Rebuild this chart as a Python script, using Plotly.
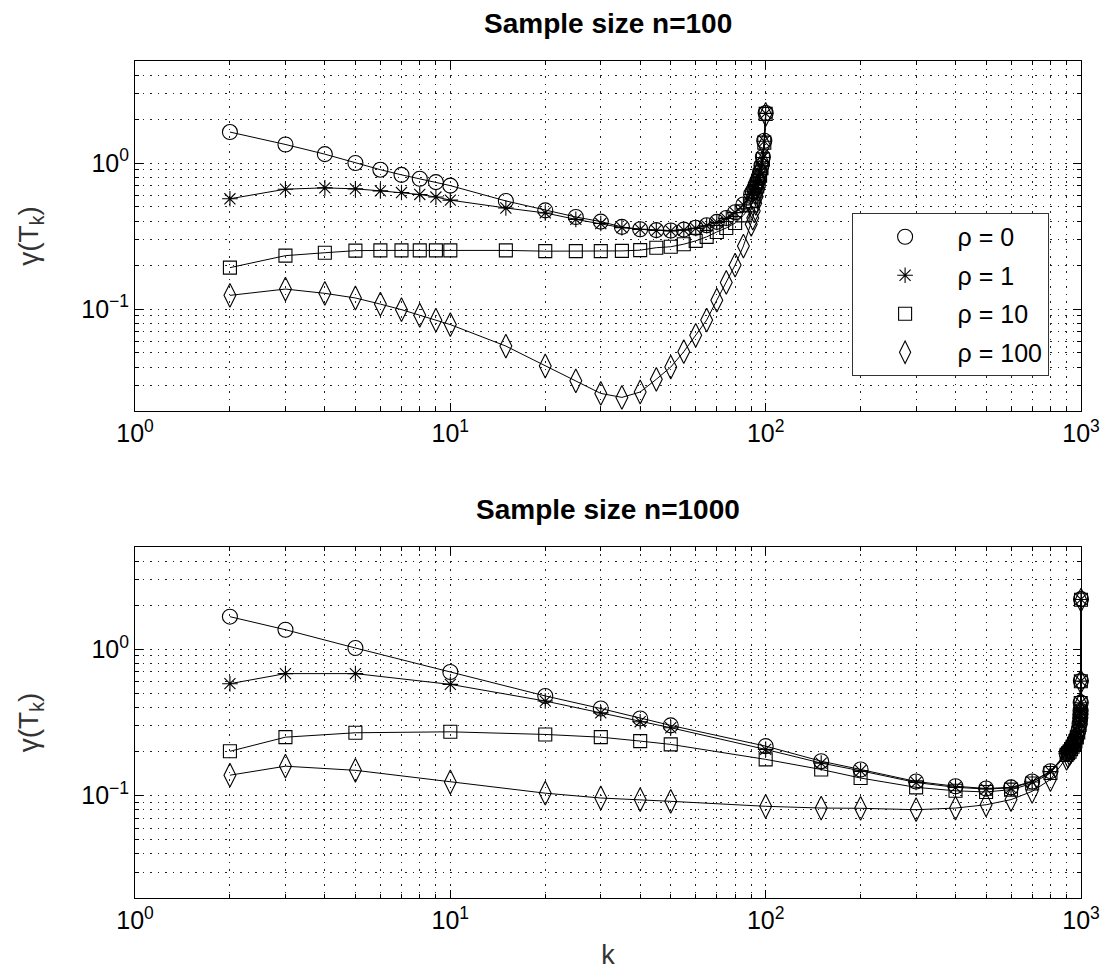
import plotly.graph_objects as go
import math

# ---------------- data ----------------
k_n100 = [2, 3, 4, 5, 6, 7, 8, 9, 10, 15, 20, 25, 30, 35, 40, 45, 50, 55, 60, 65,
          70, 75, 80, 85, 90, 91, 92, 93, 94, 95, 96, 97, 98, 99, 100]
n100_rho0 = [1.63, 1.34, 1.15, 1.0, 0.90, 0.83, 0.78, 0.74, 0.70, 0.55, 0.474, 0.427,
             0.397, 0.365, 0.352, 0.347, 0.345, 0.35, 0.36, 0.375, 0.395, 0.42, 0.46,
             0.52, 0.615, 0.64, 0.67, 0.71, 0.75, 0.80, 0.87, 0.96, 1.1, 1.42, 2.2]
n100_rho1 = [0.569, 0.662, 0.676, 0.665, 0.645, 0.628, 0.609, 0.585, 0.557, 0.492,
             0.455, 0.411, 0.385, 0.361, 0.351, 0.345, 0.343, 0.347, 0.357, 0.372,
             0.392, 0.418, 0.457, 0.517, 0.61, 0.635, 0.665, 0.705, 0.745, 0.795,
             0.865, 0.955, 1.09, 1.41, 2.19]
n100_rho10 = [0.192, 0.232, 0.243, 0.251, 0.252, 0.252, 0.252, 0.252, 0.252, 0.252,
              0.249, 0.249, 0.249, 0.250, 0.253, 0.263, 0.267, 0.278, 0.293, 0.312,
              0.337, 0.359, 0.388, 0.438, 0.513, 0.55, 0.59, 0.64, 0.69, 0.75, 0.82,
              0.92, 1.06, 1.38, 2.17]
n100_rho100 = [0.124, 0.137, 0.128, 0.119, 0.108, 0.099, 0.0906, 0.0838, 0.0782,
               0.0557, 0.0407, 0.0322, 0.0264, 0.0248, 0.027, 0.033, 0.040, 0.051,
               0.066, 0.084, 0.115, 0.152, 0.20, 0.27, 0.38, 0.42, 0.47, 0.53, 0.59,
               0.66, 0.75, 0.86, 1.01, 1.33, 2.15]

k_n1000 = [2, 3, 5, 10, 20, 30, 40, 50, 100, 150, 200, 300, 400, 500, 600, 700, 800,
           900, 910, 920, 930, 940, 950, 960, 970, 980, 990, 995, 996, 997, 998, 999, 1000]
n1000_rho0 = [1.67, 1.36, 1.02, 0.70, 0.48, 0.394, 0.337, 0.302, 0.218, 0.172, 0.151,
              0.125, 0.116, 0.112, 0.114, 0.125, 0.147, 0.195, 0.20, 0.205, 0.212,
              0.22, 0.23, 0.24, 0.255, 0.275, 0.31, 0.34, 0.36, 0.38, 0.432, 0.607, 2.2]
n1000_rho1 = [0.582, 0.682, 0.682, 0.576, 0.443, 0.368, 0.32, 0.291, 0.207, 0.167,
              0.148, 0.123, 0.114, 0.111, 0.113, 0.124, 0.146, 0.194, 0.199, 0.204,
              0.211, 0.219, 0.229, 0.239, 0.254, 0.274, 0.309, 0.339, 0.359, 0.379,
              0.431, 0.606, 2.19]
n1000_rho10 = [0.201, 0.251, 0.269, 0.273, 0.262, 0.251, 0.236, 0.224, 0.177, 0.151,
               0.132, 0.114, 0.108, 0.106, 0.110, 0.121, 0.143, 0.19, 0.195, 0.20,
               0.208, 0.216, 0.226, 0.236, 0.25, 0.27, 0.305, 0.335, 0.355, 0.375,
               0.43, 0.605, 2.18]
n1000_rho100 = [0.138, 0.159, 0.149, 0.124, 0.104, 0.0964, 0.094, 0.0915, 0.0846,
                0.0823, 0.082, 0.0802, 0.0823, 0.0867, 0.094, 0.107, 0.129, 0.18,
                0.186, 0.193, 0.2, 0.21, 0.22, 0.23, 0.245, 0.265, 0.3, 0.33, 0.35,
                0.37, 0.425, 0.6, 2.17]

legend_labels = ["\u03c1 = 0", "\u03c1 = 1", "\u03c1 = 10", "\u03c1 = 100"]
titles = ["Sample size n=100", "Sample size n=1000"]
x_ticks = [1, 10, 100, 1000]
x_ticktext = ["10<sup>0</sup>", "10<sup>1</sup>", "10<sup>2</sup>", "10<sup>3</sup>"]
x_minor = [m * d for d in (1, 10, 100) for m in range(2, 10)]
y_ticks = [0.1, 1]
y_ticktext = ["10<sup>\u22121</sup>", "10<sup>0</sup>"]
y_minor = ([m * 0.01 for m in range(2, 10)] + [m * 0.1 for m in range(2, 10)]
           + [m * 1.0 for m in range(2, 6)])

# ---------------- style ----------------
FONT = "Liberation Sans, Arial, Helvetica, sans-serif"
symbols = ["circle-open", "asterisk-open", "square-open", "diamond-tall-open"]
sizes = [15, 13, 13, 17]

fig = go.Figure()

panels = [
    ("x", "y", k_n100, [n100_rho0, n100_rho1, n100_rho10, n100_rho100]),
    ("x2", "y2", k_n1000, [n1000_rho0, n1000_rho1, n1000_rho10, n1000_rho100]),
]
for xa, ya, kk, series in panels:
    for i, vals in enumerate(series):
        fig.add_trace(go.Scatter(
            x=kk, y=vals, xaxis=xa, yaxis=ya, mode="lines+markers",
            line=dict(color="black", width=1),
            marker=dict(symbol=symbols[i], size=sizes[i], color="black",
                        line=dict(color="black", width=1.1)),
            showlegend=False, cliponaxis=False,
        ))

# legend-only entries (markers only)
for i, lab in enumerate(legend_labels):
    fig.add_trace(go.Scatter(
        x=[None], y=[None], xaxis="x", yaxis="y", mode="markers", name=lab,
        marker=dict(symbol=symbols[i], size=sizes[i], color="black",
                    line=dict(color="black", width=1.1)),
        legendgroup=str(i), showlegend=True,
    ))

grid_dash = "1.5px,6px"
GRIDC = "#222"
TICKSIZE = 25

def xaxis_cfg(anchor):
    return dict(
        type="log", range=[0, 3], anchor=anchor, domain=[0, 1],
        tickmode="array", tickvals=x_ticks, ticktext=x_ticktext,
        ticks="inside", ticklen=8, tickcolor="black", mirror="allticks",
        showline=True, linecolor="black", linewidth=1,
        showgrid=True, gridcolor=GRIDC, griddash=grid_dash, gridwidth=1,
        minor=dict(tickmode="array", tickvals=x_minor, ticks="inside", ticklen=4,
                   tickcolor="black", showgrid=True,
                   gridcolor=GRIDC, griddash=grid_dash, gridwidth=1),
        tickfont=dict(family=FONT, size=TICKSIZE, color="black"),
        zeroline=False,
    )

def yaxis_cfg(anchor, domain):
    return dict(
        type="log", range=[math.log10(0.02), math.log10(5)], anchor=anchor,
        domain=domain, tickmode="array", tickvals=y_ticks, ticktext=y_ticktext,
        ticks="inside", ticklen=8, tickcolor="black", mirror="allticks",
        showline=True, linecolor="black", linewidth=1,
        showgrid=True, gridcolor=GRIDC, griddash=grid_dash, gridwidth=1,
        minor=dict(tickmode="array", tickvals=y_minor, ticks="inside", ticklen=4,
                   tickcolor="black", showgrid=True,
                   gridcolor=GRIDC, griddash=grid_dash, gridwidth=1),
        tickfont=dict(family=FONT, size=TICKSIZE, color="black"),
        title=dict(text="\u03b3(T<sub>k</sub>)",
                   font=dict(family=FONT, size=28, color="#333"), standoff=34),
        zeroline=False,
    )

x2 = xaxis_cfg("y2")
x2["title"] = dict(text="k", font=dict(family=FONT, size=27, color="#333"), standoff=12)

fig.update_layout(
    width=1109, height=972,
    margin=dict(l=127, r=36, t=53, b=82),
    paper_bgcolor="white", plot_bgcolor="white",
    font=dict(family=FONT, color="black"),
    xaxis=xaxis_cfg("y"),
    yaxis=yaxis_cfg("x", [0.5818, 1.0]),
    xaxis2=x2,
    yaxis2=yaxis_cfg("x2", [0.0, 0.4194]),
    showlegend=True,
    legend=dict(
        x=0.7575, y=0.8184, xanchor="left", yanchor="top",
        bgcolor="white", bordercolor="#333", borderwidth=1,
        font=dict(family=FONT, size=25, color="black"),
        itemsizing="trace", tracegroupgap=3, traceorder="grouped",
        itemwidth=95,
    ),
    annotations=[
        dict(text="<b>%s</b>" % titles[0], xref="paper", yref="paper",
             x=0.5, y=1.0, xanchor="center", yanchor="bottom", yshift=20,
             showarrow=False, font=dict(family=FONT, size=28, color="black")),
        dict(text="<b>%s</b>" % titles[1], xref="paper", yref="paper",
             x=0.5, y=0.4194, xanchor="center", yanchor="bottom", yshift=20,
             showarrow=False, font=dict(family=FONT, size=28, color="black")),
    ],
)

fig.write_html("out.html")
